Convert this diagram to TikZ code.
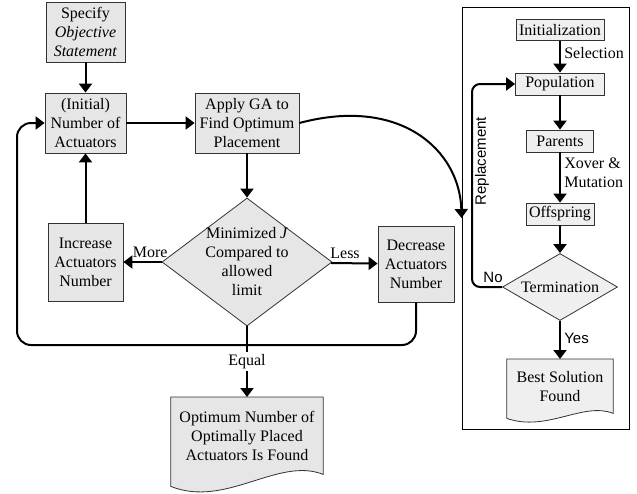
\documentclass[tikz,border=0pt]{standalone}
\usepackage{fontspec}
\setmainfont{Liberation Serif}
\newfontfamily\labelsans{Liberation Sans}
\usepackage{tikz}
\usetikzlibrary{shapes,arrows.meta,backgrounds}
\definecolor{boxgray}{HTML}{E6E6E6}
\definecolor{boxlight}{HTML}{EFEFEF}
\definecolor{edgegray}{HTML}{333333}

\begin{document}
\begin{tikzpicture}[x=1pt, y=-1pt,
	every node/.style={font=\fontsize{16}{19}\selectfont},
	stepbox/.style={draw=edgegray, line width=0.8pt, fill=boxgray, inner sep=0, align=center},
	gabox/.style={stepbox, fill=boxlight},
	decide/.style={diamond, draw=edgegray, line width=0.8pt, fill=boxgray, inner sep=0},
	doctext/.style={inner sep=0, align=center, anchor=north},
	docline/.style={draw=edgegray, line width=0.8pt, fill=boxgray},
	flow/.style={line width=2pt, -{Triangle[length=9pt,width=13pt]}},
	sans/.style={font=\labelsans\fontsize{15}{18}\selectfont}
]
\useasboundingbox (0,0) rectangle (637,493);

\node[draw, line width=0.8pt, inner sep=0, minimum width=167, minimum height=422] (gaframe) at (545.5,218) {};

\node[stepbox, minimum width=79, minimum height=60] (spec) at (85.5,32) {Specify\\\textit{Objective}\\\textit{Statement}};
\node[stepbox, minimum width=81, minimum height=60] (init) at (85.5,123) {(Initial)\\Number of\\Actuators};
\node[stepbox, minimum width=104, minimum height=60] (apply) at (247,123) {Apply GA to\\Find Optimum\\Placement};
\node[decide, minimum width=170, minimum height=128, label={[align=center]center:{Minimized \textit{J}\\Compared to\\allowed\\limit}}] (cmp) at (247,262) {};
\node[stepbox, minimum width=75, minimum height=78] (inc) at (85.5,262) {Increase\\Actuators\\Number};
\node[stepbox, minimum width=76, minimum height=76] (decr) at (416,264) {Decrease\\Actuators\\Number};
\node[doctext, minimum width=152, minimum height=77] (optdoc) at (247,397) {Optimum Number of\\Optimally Placed\\Actuators Is Found};

\node[gabox, minimum width=88, minimum height=21] (start) at (560,30) {Initialization};
\node[gabox, minimum width=89, minimum height=22] (pop) at (560,84) {Population};
\node[gabox, minimum width=67, minimum height=22] (par) at (560,141) {Parents};
\node[gabox, minimum width=68, minimum height=22] (off) at (560,214) {Offspring};
\node[decide, fill=boxlight, minimum width=115, minimum height=67, label=center:Termination] (term) at (560,287) {};
\node[doctext, minimum width=106, minimum height=54] (best) at (560,359) {Best Solution\\Found};

\begin{scope}[on background layer]
\draw[docline] (optdoc.north west) -- (optdoc.north east) -- (optdoc.south east) .. controls +(-45,-18) and +(55,22) .. ([yshift=-12pt]optdoc.south west) -- cycle;
\draw[docline, fill=boxlight] (best.north west) -- (best.north east) -- (best.south east) .. controls +(-30,-12) and +(40,14) .. ([yshift=-5pt]best.south west) -- cycle;
\end{scope}

\coordinate (loopbl) at (17,345);
\coordinate (replbl) at (472,287);

\draw[flow] (spec) -- (init);
\draw[flow] (init) -- (apply);
\draw[flow] (apply) -- (cmp);
\draw[flow] (inc) -- (init);
\draw[flow] (cmp) -- node[above, pos=0.3] {More} (inc);
\draw[flow] (cmp) -- node[above, pos=0.3] {Less} (decr);
\draw[flow, rounded corners=14pt] (decr) |- (loopbl) |- (init);
\draw[flow] (cmp) -- node[fill=white, inner sep=2pt] {Equal} (optdoc);
\draw[flow] (apply.east) .. controls +(101,-27) and +(-2,-68) .. (gaframe.west);

\draw[flow] (start) -- node[right, pos=0.38] {Selection} (pop);
\draw[flow] (pop) -- (par);
\draw[flow] (par) -- node[right, align=left, pos=0.41] {Xover \&\\Mutation} (off);
\draw[flow] (off) -- (term);
\draw[flow] (term) -- node[right, sans, pos=0.45] {Yes} (best);
\draw[flow, rounded corners=8pt] (term) -- node[above, sans, pos=0.3] {No} (replbl) |- node[sans, rotate=90, anchor=north, inner sep=2pt, pos=0.31] {Replacement} (pop);
\end{tikzpicture}
\end{document}
